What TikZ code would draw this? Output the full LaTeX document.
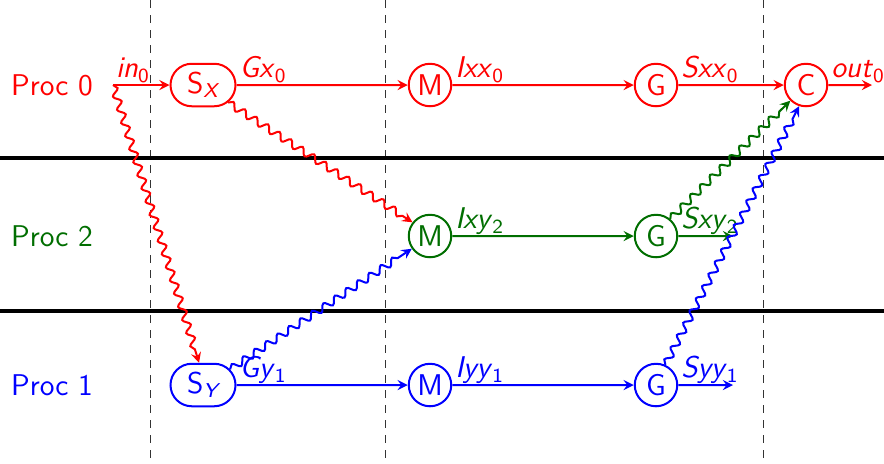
\documentclass[tikz,border=0pt]{standalone}
\usepackage{xcolor}
\usepackage{tikz}
\usetikzlibrary{shapes.misc, arrows, positioning, decorations.pathmorphing}
\definecolor{proczero}{RGB}{255,0,0}
\definecolor{procone}{RGB}{0,0,255}
\definecolor{proctwo}{RGB}{0,110,0}
\newcommand{\sub}[2]{\textit{#1}\textsubscript{#2}}

\begin{document}
\begin{tikzpicture}[x=0.4pt, y=0.4pt, font=\sffamily\large,
    op/.style={draw, rounded rectangle, thick, minimum height=17pt, minimum width=18pt, inner sep=1.5pt},
    flow/.style={->, >=stealth, thick},
    msg/.style={->, >=stealth, thick, decorate,
        decoration={snake, amplitude=1.4pt, segment length=5.5pt, post length=4pt}},
    lbl/.style={anchor=base west, inner sep=1pt, yshift=3pt}]
    \useasboundingbox (0,0) rectangle (884,-463);

    % time steps and process borders
    \foreach \x in {150, 385, 763}
        \draw[dashed, black!80] (\x,0) -- (\x,-463);
    \draw[line width=1.3pt] (0,-158) -- (884,-158);
    \draw[line width=1.3pt] (0,-311) -- (884,-311);

    % process names
    \node[proczero] (pzero) at (52,-85) {Proc 0};
    \node[proctwo] (ptwo) at (52,-236) {Proc 2};
    \node[procone] (pone) at (52,-385) {Proc 1};

    % Proc 0
    \coordinate (inzero) at (113,-85);
    \node[op, proczero, minimum width=29pt] (sx) at (203,-85) {S\textsubscript{\itshape X}};
    \node[op, proczero] (mxx) at (430,-85) {M};
    \node[op, proczero] (gxx) at (656,-85) {G};
    \node[op, proczero] (cx) at (806,-85) {C};
    \coordinate (outzero) at (872,-85);
    \node[lbl, proczero] (inlbl) at (inzero) {\sub{in}{0}};
    \node[lbl, proczero] (gxlbl) at (sx.east) {\sub{Gx}{0}};
    \node[lbl, proczero] (ixxlbl) at (mxx.east) {\sub{Ixx}{0}};
    \node[lbl, proczero] (sxxlbl) at (gxx.east) {\sub{Sxx}{0}};
    \node[lbl, proczero] (outlbl) at (cx.east) {\sub{out}{0}};
    \draw[flow, proczero] (inzero) -- (sx);
    \draw[flow, proczero] (sx) -- (mxx);
    \draw[flow, proczero] (mxx) -- (gxx);
    \draw[flow, proczero] (gxx) -- (cx);
    \draw[flow, proczero] (cx) -- (outzero);

    % Proc 2
    \node[op, proctwo] (mxy) at (430,-236) {M};
    \node[op, proctwo] (gxy) at (656,-236) {G};
    \coordinate (sxyend) at (733,-236);
    \node[lbl, proctwo] (ixylbl) at (mxy.east) {\sub{Ixy}{2}};
    \node[lbl, proctwo] (sxylbl) at (gxy.east) {\sub{Sxy}{2}};
    \draw[flow, proctwo] (mxy) -- (gxy);
    \draw[flow, proctwo] (gxy) -- (sxyend);

    % Proc 1
    \node[op, procone, minimum width=29pt] (sy) at (203,-385) {S\textsubscript{\itshape Y}};
    \node[op, procone] (myy) at (430,-385) {M};
    \node[op, procone] (gyy) at (656,-385) {G};
    \coordinate (syyend) at (733,-385);
    \node[lbl, procone] (gylbl) at (sy.east) {\sub{Gy}{1}};
    \node[lbl, procone] (iyylbl) at (myy.east) {\sub{Iyy}{1}};
    \node[lbl, procone] (syylbl) at (gyy.east) {\sub{Syy}{1}};
    \draw[flow, procone] (sy) -- (myy);
    \draw[flow, procone] (myy) -- (gyy);
    \draw[flow, procone] (gyy) -- (syyend);

    % messages
    \draw[msg, proczero] (inzero) -- (sy.100);
    \draw[msg, proczero] (sx.-35) -- (mxy.142);
    \draw[msg, procone] (sy.30) -- (mxy.-145);
    \draw[msg, proctwo] (gxy.50) -- (cx.-135);
    \draw[msg, procone] (gyy.65) -- (cx.-108);
\end{tikzpicture}
\end{document}
